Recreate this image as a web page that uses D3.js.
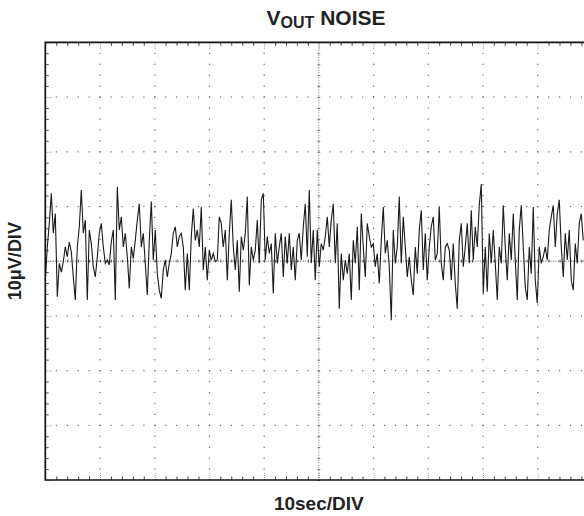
<!DOCTYPE html>
<html>
<head>
<meta charset="utf-8">
<script src="https://cdn.jsdelivr.net/npm/d3@7"></script>
<style>
  html, body { margin: 0; padding: 0; background: #fff; }
  svg { display: block; }
  text { font-family: "Liberation Sans", Arial, Helvetica, sans-serif; font-weight: bold; fill: #222; }
</style>
</head>
<body>
<svg id="chart" width="584" height="516"></svg>
<script>
// ---- data ----
const titleMain = "V";
const titleSub = "OUT";
const titleRest = " NOISE";
const xAxisLabel = "10sec/DIV";
const yAxisLabel = "10\u03BCV/DIV";

const xDomainSec = [0, 100];      // 10 divisions x 10 s
const yDomainUV = [-40, 40];      // 8 divisions x 10 uV
const majorStepSec = 10;
const minorStepSec = 2;
const majorStepUV = 10;
const minorStepUV = 2;
const sampleIntervalSec = 0.3656;

// Noise trace, microvolts relative to centre line
const noiseUV = [
  -3.5, 2.6, 6.9, 12.4, 5.1, 8.7, -6.5, -0.4, -2, -0.1, 2.6, 0.8, 3.5, 1.7, -2.9, -7.1, 2.6, 6.3, 13, 5.1,
  7.5, -7.1, 5.7, 3.2, -1, -2.9, 0.8, 5.1, 6.9, 2.6, -0.4, 0.2, -0.7, 3.5, 5.7, -7.1, 13.6, 5.7, 8.1, 2.6,
  5.1, 0.8, -5, 2.6, 0.5, 3.8, 7.5, 10.5, 2.6, 5.1, -0.4, -6.2, 3.8, 10.9, 0.2, 5.7, -2.3, -5.3, -6.8, -1.6,
  0.2, -2.9, -0.4, 1.4, 5.1, 6.3, 2.6, 4.5,
  5.1, 2.6, -5.3, 1.4, -5.3, 4.5, 9.6, 3.8, 5.7, 2.6, 9.9, -1.6, 2.6, -3.5, 2, 0.2, 1.4, -0.1, 0.2, 8.1,
  6.9, 2.6, 5.7, -3.5, 5.1, 11.2, 2.6, -1.6, 3.8, -5.6, 4.5, 2, 5.1, 11.8, -4.4, 2.6, 0.2, 2, 7.5, -0.4,
  11.2, 12.4, 0.2, 4.5, 1.4, 3.2, -5.9, 5.1, -0.4, 2.6, 5.1, -2.9, 4.5, -0.4, 5.1, -1.6, 2.6, -3.5, 3.8, 5.1,
  0.2, 6.3, 10.5, 0.8, 13, -0.4, 5.7,
  -3.5, 5.7, -1, 3.2, 2, 4.5, 8.1, 2.6, 7.5, 10.5, -0.4, 6.9, -8.7, 1.4, -3.5, 0.2, -2.3, 1.4, -7.1, 3.8,
  -0.4, 6.3, -5.3, 8.7, 2.6, -2.9, 6.9, 4.5, 2.6, 3.2, -1, 1.4, -4.1, 3.8, 9.9, 1.4, 3.8, -1, -10.8, 5.7,
  -0.4, 2.6, 11.8, -0.4, 8.1, 2.6, -2.9, 0.8, -3.5, -6.2, 2.6, -2.3, 5.7, 9.3, -1.6, 5.1, -3.5, 2.6, 6.3, 8.1,
  0.2, 1.4, 9.9, -0.4, -3.5, 2.6, 3.2,
  2, -3.5, 3.2, -4.1, -8.7, 3.8, 6.9, -1, 2.6, 6.9, -0.4, 9.3, 0.2, 6.3, 2.6, 10.2, 14.1, -5.9, 2.6, -5.6,
  5.1, -0.4, 5.7, -0.4, -7.1, 2.6, -0.4, 10.2, 2.6, -3.5, 5.1, 0.2, 8.7, 0.2, -7.1, 5.7, 10.2, 2.6, -4.7, -7.1,
  2.6, -2.3, 9.9, -3.5, -7.7, 2.6, -0.4, 0.8, 2.6, 0.2, 5.7, 8.1, 10.2, 2.6, 8.7, 11.2, 2.6, -2.9, 5.1, 0.2,
  5.7, -3.5, -5.3, 3.2, -0.4, 6.9, 8.7, 3.8
];

// ---- layout ----
const svg = d3.select("#chart");
const plotL = 45.3, plotT = 42.3, plotW = 547, plotH = 437.7;
const plotR = plotL + plotW, plotB = plotT + plotH;

const x = d3.scaleLinear().domain(xDomainSec).range([plotL, plotR]);
const y = d3.scaleLinear().domain(yDomainUV).range([plotB, plotT]);

const xMajor = d3.range(xDomainSec[0], xDomainSec[1] + 0.001, majorStepSec);
const xMinor = d3.range(xDomainSec[0], xDomainSec[1] + 0.001, minorStepSec);
const yMajor = d3.range(yDomainUV[0], yDomainUV[1] + 0.001, majorStepUV);
const yMinor = d3.range(yDomainUV[0], yDomainUV[1] + 0.001, minorStepUV);
const xCenter = (xDomainSec[0] + xDomainSec[1]) / 2;
const yCenter = (yDomainUV[0] + yDomainUV[1]) / 2;

const grid = svg.append("g").attr("fill", "#666");

// dotted major grid lines (dots at each minor subdivision)
xMajor.filter(v => v > xDomainSec[0] && v < xDomainSec[1] && v !== xCenter).forEach(v => {
  grid.selectAll(null).data(yMinor.filter(u => u > yDomainUV[0] && u < yDomainUV[1]))
    .enter().append("rect")
    .attr("x", x(v) - 0.5).attr("y", d => y(d) - 0.5).attr("width", 1.2).attr("height", 1.2);
});
yMajor.filter(u => u > yDomainUV[0] && u < yDomainUV[1] && u !== yCenter).forEach(u => {
  grid.selectAll(null).data(xMinor.filter(v => v > xDomainSec[0] && v < xDomainSec[1]))
    .enter().append("rect")
    .attr("x", d => x(d) - 0.5).attr("y", y(u) - 0.5).attr("width", 1.2).attr("height", 1.2);
});

// centre axes: fine dotted line plus minor tick marks
svg.append("line")
  .attr("x1", plotL).attr("x2", plotR).attr("y1", y(yCenter)).attr("y2", y(yCenter))
  .attr("stroke", "#444").attr("stroke-width", 1).attr("stroke-dasharray", "1,1.5");
svg.append("line")
  .attr("x1", x(xCenter)).attr("x2", x(xCenter)).attr("y1", plotT).attr("y2", plotB)
  .attr("stroke", "#777").attr("stroke-width", 1).attr("stroke-dasharray", "1,1.5");

svg.append("g").attr("transform", `translate(0,${y(yCenter) - 1.5})`)
  .call(d3.axisBottom(x).tickValues(xMinor).tickSize(3).tickFormat(""))
  .call(g => g.select(".domain").remove())
  .call(g => g.selectAll("line").attr("stroke", "#555"));
svg.append("g").attr("transform", `translate(${x(xCenter) - 1.5},0)`)
  .call(d3.axisRight(y).tickValues(yMinor).tickSize(3).tickFormat(""))
  .call(g => g.select(".domain").remove())
  .call(g => g.selectAll("line").attr("stroke", "#777"));

// edge ticks (minor short and dark, major longer and lighter)
const xMinorOnly = xMinor.filter(v => !xMajor.includes(v));
const yMinorOnly = yMinor.filter(v => !yMajor.includes(v));
function ticks(axis, transform, stroke, dash) {
  svg.append("g").attr("transform", transform).call(axis)
    .call(g => g.select(".domain").remove())
    .call(g => g.selectAll("line").attr("stroke", stroke).attr("stroke-dasharray", dash));
}
ticks(d3.axisBottom(x).tickValues(xMinorOnly).tickSize(3.5).tickFormat(""), `translate(0,${plotT})`, "#444", null);
ticks(d3.axisBottom(x).tickValues(xMajor).tickSize(7).tickFormat(""), `translate(0,${plotT})`, "#999", "1,1");
ticks(d3.axisTop(x).tickValues(xMinorOnly).tickSize(3.5).tickFormat(""), `translate(0,${plotB})`, "#444", null);
ticks(d3.axisTop(x).tickValues(xMajor).tickSize(7).tickFormat(""), `translate(0,${plotB})`, "#999", "1,1");
ticks(d3.axisRight(y).tickValues(yMinorOnly).tickSize(3.5).tickFormat(""), `translate(${plotL},0)`, "#555", null);
ticks(d3.axisRight(y).tickValues(yMajor).tickSize(7).tickFormat(""), `translate(${plotL},0)`, "#999", "1,1");

// frame (left, top, bottom; right is beyond the picture)
svg.append("path")
  .attr("d", `M${plotR},${plotT}H${plotL}V${plotB}H${plotR}`)
  .attr("fill", "none").attr("stroke", "#111").attr("stroke-width", 1.7);

// noise trace
const line = d3.line()
  .x((d, i) => x(i * sampleIntervalSec))
  .y(d => y(d));
svg.append("path")
  .datum(noiseUV)
  .attr("d", line)
  .attr("fill", "none")
  .attr("stroke", "#1a1a1a")
  .attr("stroke-width", 1.1)
  .attr("stroke-linejoin", "miter");

// titles
const title = svg.append("text").attr("x", 326).attr("y", 25).attr("text-anchor", "middle");
title.append("tspan").attr("font-size", 21).text(titleMain);
title.append("tspan").attr("font-size", 16).attr("dy", 3).text(titleSub);
title.append("tspan").attr("font-size", 21).attr("dy", -3).text(titleRest);

svg.append("text").attr("x", x(xCenter)).attr("y", 510).attr("text-anchor", "middle")
  .attr("font-size", 19).text(xAxisLabel);

svg.append("text").attr("transform", `translate(21,${y(yCenter)}) rotate(-90)`)
  .attr("text-anchor", "middle").attr("font-size", 18).text(yAxisLabel);
</script>
</body>
</html>
